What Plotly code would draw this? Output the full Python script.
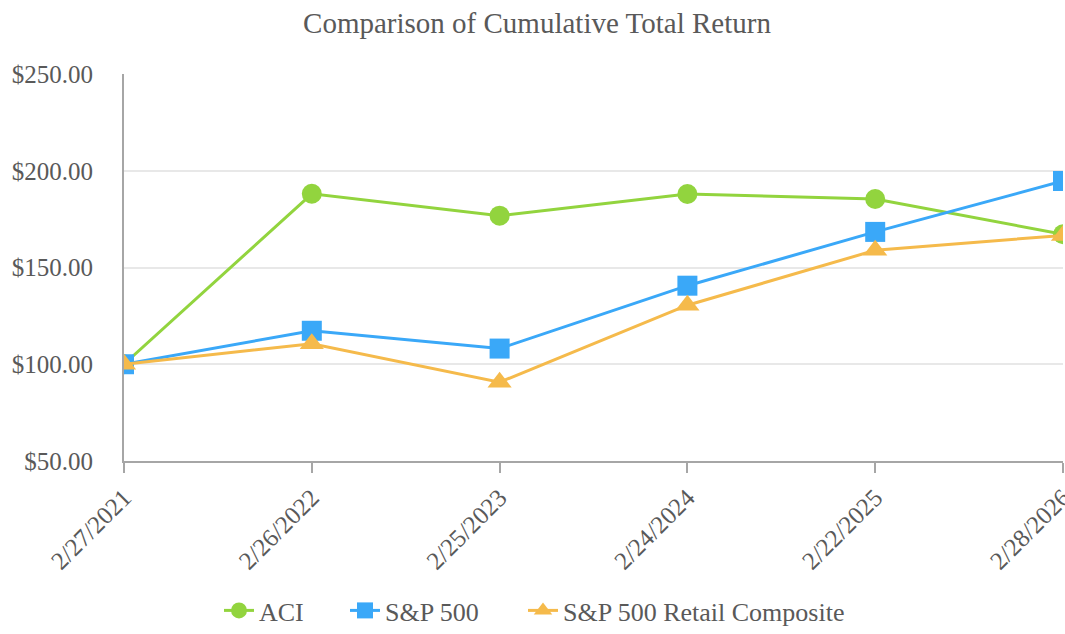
import plotly.graph_objects as go

dates = ["2/27/2021", "2/26/2022", "2/25/2023", "2/24/2024", "2/22/2025", "2/28/2026"]
aci = [100.00, 188.1, 176.8, 188.0, 185.4, 167.2]
sp500 = [100.00, 117.3, 108.1, 140.6, 168.4, 194.7]
retail = [100.00, 110.6, 90.7, 130.5, 158.9, 166.6]

series_names = ["ACI", "S&P 500", "S&P 500 Retail Composite"]
colors = ["#92D43E", "#3AA8F8", "#F5BA4B"]
symbols = ["circle", "square", "triangle-up"]
legend_ids = ["legend", "legend2", "legend3"]
legend_x = [219, 345, 523]  # left edge of each legend entry (px)

FONT = "Liberation Serif"
TEXT = "#595959"

fig = go.Figure()
for name, vals, col, sym, lg in zip(series_names, [aci, sp500, retail], colors, symbols, legend_ids):
    fig.add_trace(go.Scatter(
        x=dates, y=vals, name=name, mode="lines+markers",
        line=dict(color=col, width=3),
        marker=dict(color=col, symbol=sym, size=20 if sym != "triangle-up" else 21),
        legend=lg,
    ))

W, H = 1065, 634
layout_legends = {}
for lg, lx in zip(legend_ids, legend_x):
    layout_legends[lg] = dict(orientation="h", xref="container", yref="container",
                              xanchor="left", yanchor="bottom",
                              x=lx / W, y=0,
                              font=dict(family=FONT, size=26, color=TEXT),
                              bgcolor="rgba(0,0,0,0)")

fig.update_layout(
    width=W, height=H,
    margin=dict(l=124, r=2, t=74, b=H - 461, autoexpand=False),
    paper_bgcolor="white", plot_bgcolor="white",
    font=dict(family=FONT, size=25, color=TEXT),
    title=dict(text="Comparison of Cumulative Total Return", x=537 / W, xref="container",
               xanchor="center", y=1 - 23 / H, yref="container", yanchor="middle",
               font=dict(family=FONT, size=29, color=TEXT)),
    showlegend=True,
    **layout_legends,
)
fig.update_xaxes(
    type="category", range=[0, 5], automargin=False,
    showline=True, linecolor="#a6a6a6", linewidth=2,
    ticks="outside", ticklen=10, tickcolor="#a6a6a6", tickwidth=2,
    tickangle=-45, showgrid=False,
    tickfont=dict(family=FONT, size=25, color=TEXT),
)
fig.update_yaxes(
    range=[50, 250], dtick=50, tickprefix="$", tickformat=".2f", automargin=False,
    showline=True, linecolor="#a6a6a6", linewidth=2,
    showgrid=True, gridcolor="#e8e8e8", gridwidth=2,
    zeroline=False, ticks="", ticklabelstandoff=24,
    tickfont=dict(family=FONT, size=25, color=TEXT),
)

fig.write_html("out.html", config={"displayModeBar": False},
               post_script="document.body.style.margin='0';document.body.style.overflow='hidden';")
